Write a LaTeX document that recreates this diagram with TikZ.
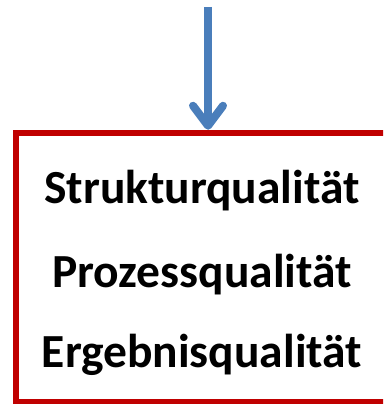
\documentclass[tikz,border=0pt]{standalone}
\usepackage{fontspec}
\setmainfont{Carlito}
\usetikzlibrary{arrows.meta,positioning}

\begin{document}
\begin{tikzpicture}[x=1pt,y=-1pt]
\tikzset{qbox/.style={draw={rgb,255:red,192;green,0;blue,0},line width=6.5pt,minimum width=384pt,minimum height=269pt},
         qtext/.style={anchor=base,font=\fontsize{47.5}{57}\selectfont\bfseries,text=black},
         flow/.style={draw={rgb,255:red,74;green,126;blue,187},line width=8pt,-{Straight Barb[length=20pt,width=30pt,round]}}}
\useasboundingbox (0,0) rectangle (383,404);
\clip (0,0) rectangle (383,404);

\node[qbox]    (frame) at (208,267.5) {};
\node[qtext]   (struk) at (202,203) {Strukturqualität};
\node[qtext]   (proz)  at (202,287) {Prozessqualität};
\node[qtext]   (erg)   at (202,367) {Ergebnisqualität};

\coordinate (src) at (208,7);
\draw[flow] (src) -- (frame.north);
\end{tikzpicture}
\end{document}
